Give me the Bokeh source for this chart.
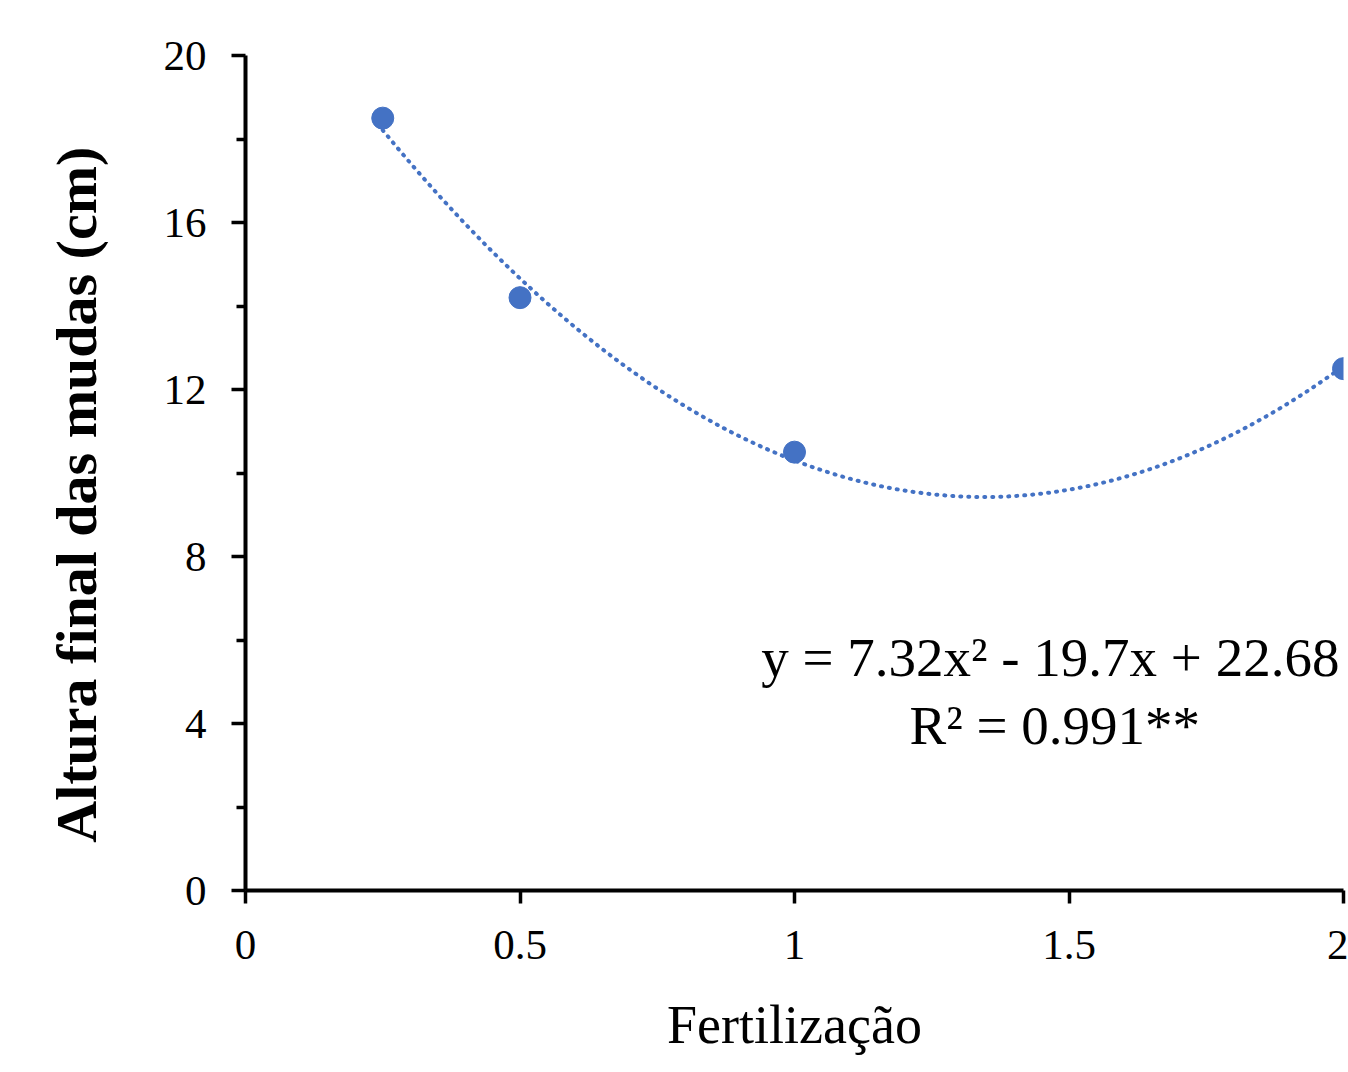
import numpy as np
from bokeh.plotting import figure
from bokeh.models import Range1d, FixedTicker, Label, NumeralTickFormatter
from bokeh.embed import file_html
from bokeh.resources import INLINE

# ---- data ----
fertilizacao = [0.25, 0.5, 1.0, 2.0]
altura = [18.5, 14.2, 10.5, 12.5]
trend_coef = [7.32, -19.7, 22.68]          # y = a x^2 + b x + c (as printed on chart)
x_ticks = [0, 0.5, 1, 1.5, 2]
y_ticks = [0, 4, 8, 12, 16, 20]
y_minor = [2, 6, 10, 14, 18]
eq_text = "y = 7.32x² - 19.7x + 22.68"
r2_text = "R² = 0.991**"
x_title = "Fertilização"
y_title = "Altura final das mudas (cm)"

FONT = "Liberation Serif"
BLUE = "#4472C4"

p = figure(width=1348, height=1072, output_backend="svg", toolbar_location=None,
           x_range=Range1d(0, 2), y_range=Range1d(0, 20),
           min_border_left=245, min_border_right=5, min_border_top=55, min_border_bottom=182)
p.outline_line_color = None
p.grid.visible = False
p.background_fill_color = "white"
p.border_fill_color = "white"

# trend line from printed equation
a, b, c = trend_coef
tx = np.linspace(min(fertilizacao), max(fertilizacao), 300)
ty = a * tx**2 + b * tx + c
p.line(tx, ty, line_color=BLUE, line_width=4, line_dash="1 7", line_cap="round")

p.scatter(fertilizacao, altura, size=22, fill_color=BLUE, line_color=BLUE, line_width=1)

# axes
xa = p.xaxis[0]
xa.ticker = FixedTicker(ticks=x_ticks)
xa.formatter = NumeralTickFormatter(format="0.[0]")
xa.axis_line_width = 4
xa.axis_line_color = "black"
xa.major_tick_line_width = 3.5
xa.major_tick_in = 0
xa.major_tick_out = 13
xa.minor_tick_out = 0
xa.minor_tick_in = 0
xa.major_label_standoff = 27
xa.major_label_text_font = FONT
xa.major_label_text_font_size = "43px"
xa.major_label_text_color = "black"
xa.axis_label = x_title
xa.axis_label_text_font = FONT
xa.axis_label_text_font_style = "normal"
xa.axis_label_text_font_size = "54px"
xa.axis_label_text_color = "black"
xa.axis_label_standoff = 33

ya = p.yaxis[0]
ya.ticker = FixedTicker(ticks=y_ticks, minor_ticks=y_minor)
ya.formatter = NumeralTickFormatter(format="0")
ya.axis_line_width = 4
ya.axis_line_color = "black"
ya.major_tick_line_width = 3.5
ya.major_tick_in = 0
ya.major_tick_out = 14
ya.minor_tick_line_width = 3.5
ya.minor_tick_line_color = "black"
ya.minor_tick_in = 0
ya.minor_tick_out = 9
ya.major_label_standoff = 25
ya.major_label_text_font = FONT
ya.major_label_text_font_size = "43px"
ya.major_label_text_color = "black"
ya.axis_label = y_title + "\u00a0\u00a0\u00a0"
ya.axis_label_text_font = FONT
ya.axis_label_text_font_style = "bold"
ya.axis_label_text_font_size = "58px"
ya.axis_label_text_color = "black"
ya.axis_label_standoff = 52

# equation text
p.add_layout(Label(x=1.466, y=5.58, text=eq_text, text_align="center", text_baseline="alphabetic",
                   text_font=FONT, text_font_size="55px", text_color="black"))
p.add_layout(Label(x=1.474, y=3.95, text=r2_text, text_align="center", text_baseline="alphabetic",
                   text_font=FONT, text_font_size="55px", text_color="black"))

open("out.html", "w").write(file_html(p, INLINE))
